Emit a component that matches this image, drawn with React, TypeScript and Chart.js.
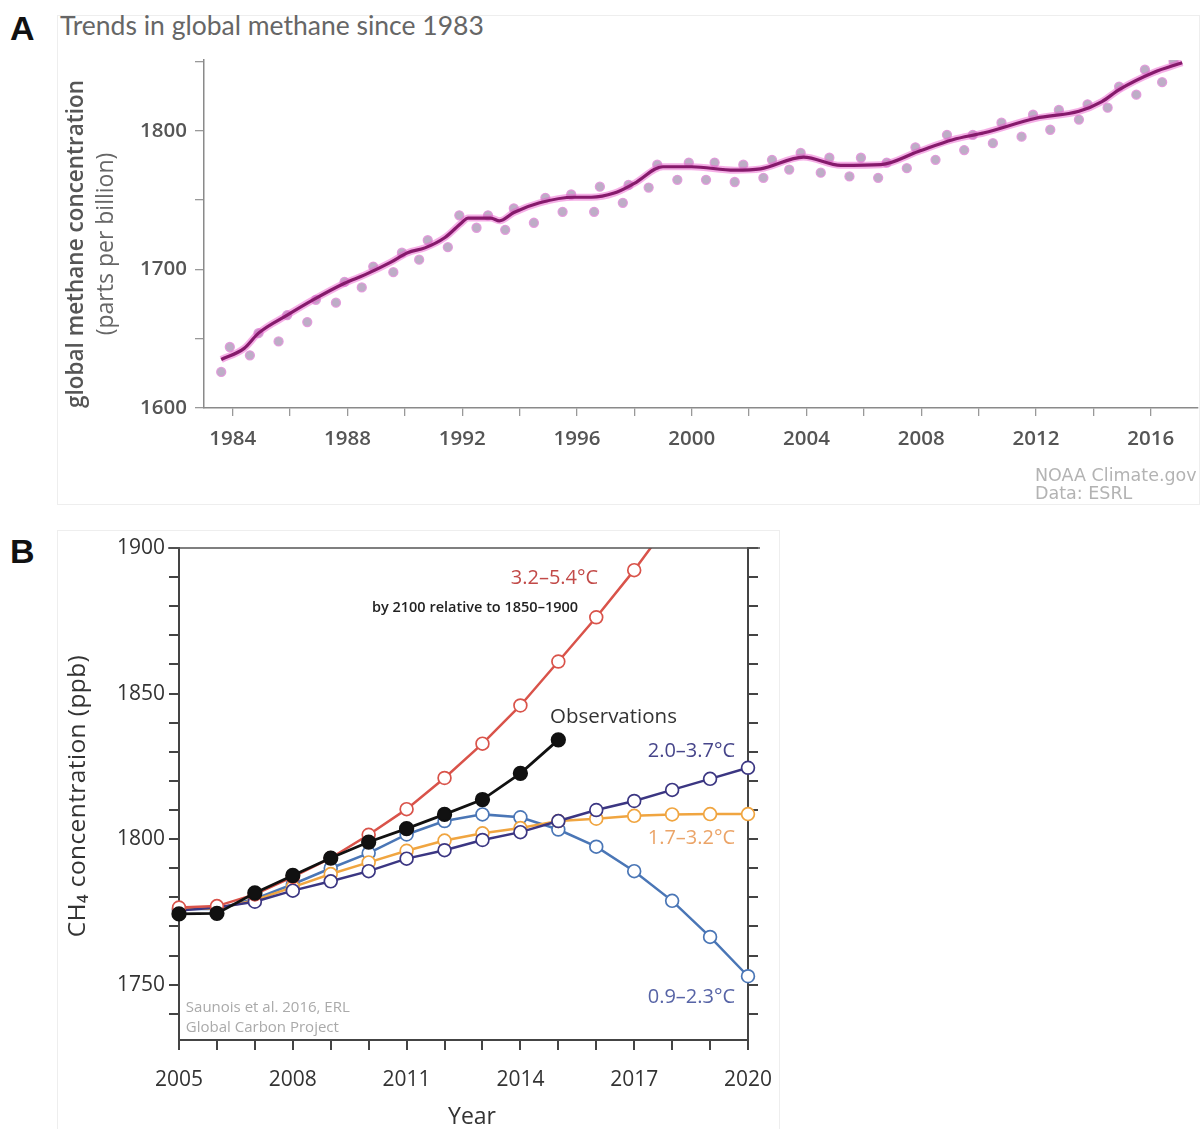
import React, { useEffect, useRef } from "react";
import { Chart, registerables } from "chart.js";

Chart.register(...registerables);

// ---------------- Panel A: Trends in global methane since 1983 ----------------
const A_TREND_YEARS = [
  1983.6, 1984.4, 1984.9, 1985.9, 1986.8, 1987.9, 1988.6, 1989.5, 1990.1, 1990.7,
  1991.4, 1992.0, 1992.2, 1993.0, 1993.3, 1993.8, 1994.7, 1995.9, 1996.5, 1997.3,
  1998.0, 1999.0, 2000.0, 2001.5, 2002.4, 2003.9, 2005.2, 2006.6, 2007.9, 2009.1,
  2010.2, 2012.0, 2013.5, 2014.3, 2014.9, 2016.1, 2017.1,
];
const A_TREND_PPB = [
  1635, 1643, 1654, 1667, 1678, 1690, 1696, 1705, 1712, 1715.5,
  1723, 1734, 1737, 1737, 1735, 1741, 1748, 1752, 1752, 1755,
  1762, 1774, 1774, 1771.5, 1772.5, 1781, 1775, 1775.5, 1785, 1793.5,
  1798.5, 1809, 1814, 1821, 1829.6, 1842, 1849,
];
const A_OBS_YEARS = [
  1983.6, 1983.9, 1984.6, 1984.9, 1985.6, 1985.9, 1986.6, 1986.9, 1987.6, 1987.9,
  1988.5, 1988.9, 1989.6, 1989.9, 1990.5, 1990.8, 1991.5, 1991.9, 1992.5, 1992.9,
  1993.5, 1993.8, 1994.5, 1994.9, 1995.5, 1995.8, 1996.6, 1996.8, 1997.6, 1997.8,
  1998.5, 1998.8, 1999.5, 1999.9, 2000.5, 2000.8, 2001.5, 2001.8, 2002.5, 2002.8,
  2003.4, 2003.8, 2004.5, 2004.8, 2005.5, 2005.9, 2006.5, 2006.8, 2007.5, 2007.8,
  2008.5, 2008.9, 2009.5, 2009.8, 2010.5, 2010.8, 2011.5, 2011.9, 2012.5, 2012.8,
  2013.5, 2013.8, 2014.5, 2014.9, 2015.5, 2015.8, 2016.4, 2016.8,
];
const A_OBS_PPB = [
  1626, 1644, 1638, 1654, 1648, 1667, 1662, 1678, 1676, 1691,
  1687, 1702, 1698, 1712, 1707, 1721, 1716, 1739, 1730, 1739,
  1728.5, 1744, 1733.6, 1751.6, 1741.5, 1754, 1741.5, 1759.6, 1748, 1761,
  1759, 1775.5, 1764.6, 1777, 1764.6, 1777, 1763, 1775.5, 1766, 1779,
  1772, 1784, 1769.7, 1780.5, 1767, 1780.5, 1766, 1777, 1773, 1788,
  1779, 1797, 1786, 1797, 1791, 1805.8, 1795.7, 1811.5, 1800.7, 1815,
  1808, 1819, 1816.6, 1831.8, 1826, 1844, 1835, 1850,
];
const A_Y_TICKS = [1600, 1650, 1700, 1750, 1800, 1850];
const A_Y_LABELS = [1600, 1700, 1800];
const A_X_TICKS = [1984, 1986, 1988, 1990, 1992, 1994, 1996, 1998, 2000, 2002, 2004, 2006, 2008, 2010, 2012, 2014, 2016];
const A_X_LABELS = [1984, 1988, 1992, 1996, 2000, 2004, 2008, 2012, 2016];

// ---------------- Panel B: CH4 concentration scenarios ----------------
const B_YEARS = [2005, 2006, 2007, 2008, 2009, 2010, 2011, 2012, 2013, 2014, 2015, 2016, 2017, 2018, 2019, 2020];
const B_OBSERVATIONS = [1774.3, 1774.5, 1781.5, 1787.5, 1793.5, 1799, 1803.6, 1808.5, 1813.6, 1822.6, 1834.1];
const B_SCEN_32_54 = [1776.5, 1777, 1781, 1787, 1793.5, 1801.5, 1810.3, 1821, 1832.8, 1845.9, 1861, 1876.2, 1892.4, 1910, 1929, 1949];
const B_SCEN_20_37 = [1775.5, 1776.5, 1778.5, 1782.3, 1785.5, 1789, 1793.3, 1796.2, 1799.7, 1802.4, 1806.2, 1810, 1813.1, 1816.9, 1820.7, 1824.5];
const B_SCEN_17_32 = [1776, 1776.2, 1779, 1783.5, 1788, 1792, 1796, 1799.5, 1802, 1803.8, 1806.2, 1807, 1808, 1808.5, 1808.6, 1808.6];
const B_SCEN_09_23 = [1776, 1776, 1779.5, 1784.5, 1790, 1795.2, 1801.6, 1806.2, 1808.5, 1807.5, 1803.3, 1797.4, 1789, 1778.8, 1766.4, 1752.9];
const B_Y_TICKS = [1740, 1750, 1760, 1770, 1780, 1790, 1800, 1810, 1820, 1830, 1840, 1850, 1860, 1870, 1880, 1890, 1900];
const B_Y_LABELS = [1750, 1800, 1850, 1900];
const B_X_LABELS = [2005, 2008, 2011, 2014, 2017, 2020];

const SANS = '"Open Sans", "Noto Sans", sans-serif';

type Ann = {
  text: string;
  x: number;
  y: number;
  font: string;
  color: string;
  align?: CanvasTextAlign;
  rotate?: boolean;
  data?: boolean;
  spacing?: number;
};

function annotPlugin(items: Ann[], extra?: (chart: any, ctx: CanvasRenderingContext2D) => void) {
  return {
    id: "annot",
    afterDraw(chart: any) {
      const ctx: CanvasRenderingContext2D = chart.ctx;
      ctx.save();
      if (extra) extra(chart, ctx);
      for (const it of items) {
        let px = it.x;
        let py = it.y;
        if (it.data) {
          px = chart.scales.x.getPixelForValue(it.x);
          py = chart.scales.y.getPixelForValue(it.y);
        }
        ctx.save();
        ctx.font = it.font;
        ctx.fillStyle = it.color;
        ctx.textAlign = it.align || "left";
        ctx.textBaseline = "middle";
        if (it.spacing) (ctx as any).letterSpacing = `${it.spacing}px`;
        ctx.translate(px, py);
        if (it.rotate) ctx.rotate(-Math.PI / 2);
        ctx.fillText(it.text, 0, 0);
        ctx.restore();
      }
      ctx.restore();
    },
  };
}

const pts = (xs: number[], ys: number[]) => ys.map((y, i) => ({ x: xs[i], y }));

export default function App() {
  const refA = useRef<HTMLCanvasElement>(null);
  const refB = useRef<HTMLCanvasElement>(null);

  useEffect(() => {
    const trend = pts(A_TREND_YEARS, A_TREND_PPB);
    const chartA = new Chart(refA.current as HTMLCanvasElement, {
      type: "line",
      data: {
        datasets: [
          {
            label: "trend",
            data: trend,
            borderColor: "#861a6c",
            borderWidth: 3.2,
            pointRadius: 0,
            cubicInterpolationMode: "monotone",
            fill: false,
          },
          {
            label: "glow",
            data: trend,
            borderColor: "rgba(235,95,205,0.5)",
            borderWidth: 7,
            pointRadius: 0,
            cubicInterpolationMode: "monotone",
            fill: false,
          },
          {
            label: "monthly",
            data: pts(A_OBS_YEARS, A_OBS_PPB),
            showLine: false,
            pointRadius: 4.5,
            pointBackgroundColor: "rgba(182,164,192,0.9)",
            pointBorderColor: "rgba(226,150,218,0.9)",
            pointBorderWidth: 1.3,
          },
        ],
      } as any,
      options: {
        animation: false,
        responsive: false,
        maintainAspectRatio: false,
        events: [],
        layout: { padding: { left: 0, right: 2, top: 15, bottom: 0 }, autoPadding: false },
        plugins: { legend: { display: false }, tooltip: { enabled: false } },
        scales: {
          x: {
            type: "linear",
            min: 1983,
            max: 2017.65,
            afterBuildTicks: (s: any) => {
              s.ticks = A_X_TICKS.map((value) => ({ value }));
            },
            afterFit: (s: any) => {
              s.height = 97;
              s.paddingLeft = 0;
              s.paddingRight = 0;
            },
            ticks: {
              autoSkip: false,
              maxRotation: 0,
              padding: 11,
              color: "#555",
              font: { family: SANS, size: 20.5, weight: "600" },
              callback: (v: any) => (A_X_LABELS.includes(Number(v)) ? String(v) : ""),
            },
            grid: { display: true, drawOnChartArea: false, drawTicks: true, tickLength: 8, color: "#999", lineWidth: 1.3 },
            border: { display: true, color: "#8a8a8a", width: 1.5 },
          },
          y: {
            type: "linear",
            min: 1600,
            max: 1851,
            afterBuildTicks: (s: any) => {
              s.ticks = A_Y_TICKS.map((value) => ({ value }));
            },
            afterFit: (s: any) => {
              s.width = 147;
              s.paddingTop = 0;
              s.paddingBottom = 0;
            },
            ticks: {
              autoSkip: false,
              padding: 8,
              color: "#555",
              font: { family: SANS, size: 20.5, weight: "600" },
              callback: (v: any) => (A_Y_LABELS.includes(Number(v)) ? String(v) : ""),
            },
            grid: { display: true, drawOnChartArea: false, drawTicks: true, tickLength: 9, color: "#999", lineWidth: 1.3 },
            border: { display: true, color: "#8a8a8a", width: 1.5 },
          },
        },
      } as any,
      plugins: [
        annotPlugin([
          { text: "global methane concentration", x: 20, y: 199, rotate: true, align: "center", font: `600 22.5px ${SANS}`, color: "#555" },
          { text: "(parts per billion)", x: 49, y: 199, rotate: true, align: "center", font: `23px ${SANS}`, color: "#666" },
        ]),
      ] as any,
    });

    const line = (label: string, data: number[], color: string, filled: boolean) => ({
      label,
      data: pts(B_YEARS, data),
      borderColor: color,
      borderWidth: filled ? 2.8 : 2.5,
      pointRadius: filled ? 6.8 : 6.4,
      pointBackgroundColor: filled ? color : "#ffffff",
      pointBorderColor: color,
      pointBorderWidth: 1.7,
      tension: 0,
      fill: false,
      clip: { left: 12, right: 12, top: 0, bottom: 12 },
    });

    const chartB = new Chart(refB.current as HTMLCanvasElement, {
      type: "line",
      data: {
        datasets: [
          line("Observations", B_OBSERVATIONS, "#111111", true),
          line("3.2–5.4°C", B_SCEN_32_54, "#d9534a", false),
          line("2.0–3.7°C", B_SCEN_20_37, "#3b3682", false),
          line("1.7–3.2°C", B_SCEN_17_32, "#f0a540", false),
          line("0.9–2.3°C", B_SCEN_09_23, "#4a76b6", false),
        ],
      } as any,
      options: {
        animation: false,
        responsive: false,
        maintainAspectRatio: false,
        events: [],
        layout: { padding: { left: 0, right: 0, top: 18, bottom: 0 }, autoPadding: false },
        plugins: { legend: { display: false }, tooltip: { enabled: false } },
        scales: {
          x: {
            type: "linear",
            min: 2005,
            max: 2020,
            afterBuildTicks: (s: any) => {
              s.ticks = B_YEARS.map((value) => ({ value }));
            },
            afterFit: (s: any) => {
              s.height = 89;
              s.paddingLeft = 0;
              s.paddingRight = 0;
            },
            ticks: {
              autoSkip: false,
              maxRotation: 0,
              padding: 17,
              color: "#333",
              font: { family: SANS, size: 21 },
              callback: (v: any) => (B_X_LABELS.includes(Number(v)) ? String(v) : ""),
            },
            grid: { display: true, drawOnChartArea: false, drawTicks: true, tickLength: 10, color: "#444", lineWidth: 2 },
            border: { display: true, color: "#444", width: 2 },
          },
          y: {
            type: "linear",
            position: "left",
            min: 1731,
            max: 1900,
            afterBuildTicks: (s: any) => {
              s.ticks = B_Y_TICKS.map((value) => ({ value }));
            },
            afterFit: (s: any) => {
              s.width = 122;
              s.paddingTop = 0;
              s.paddingBottom = 0;
            },
            ticks: {
              autoSkip: false,
              padding: 4,
              color: "#333",
              font: { family: SANS, size: 21 },
              callback: (v: any) => (B_Y_LABELS.includes(Number(v)) ? String(v) : ""),
            },
            grid: { display: true, drawOnChartArea: false, drawTicks: true, tickLength: 10, color: "#444", lineWidth: 2 },
            border: { display: true, color: "#444", width: 2 },
          },
          y2: {
            type: "linear",
            position: "right",
            min: 1731,
            max: 1900,
            afterBuildTicks: (s: any) => {
              s.ticks = B_Y_TICKS.map((value) => ({ value }));
            },
            afterFit: (s: any) => {
              s.width = 32;
              s.paddingTop = 0;
              s.paddingBottom = 0;
            },
            ticks: { autoSkip: false, padding: 0, font: { size: 8 }, callback: () => "" },
            grid: { display: true, drawOnChartArea: false, drawTicks: true, tickLength: 10, color: "#444", lineWidth: 2 },
            border: { display: true, color: "#444", width: 2 },
          },
        },
      } as any,
      plugins: [
        annotPlugin(
          [
            { text: "3.2–5.4°C", x: 2016.05, y: 1889.7, data: true, align: "right", font: `20px ${SANS}`, color: "#c24a48" },
            { text: "by 2100 relative to 1850–1900", x: 2015.52, y: 1879.5, data: true, align: "right", font: `600 14.5px ${SANS}`, color: "#222" },
            { text: "Observations", x: 2014.78, y: 1841.8, data: true, align: "left", font: `20.5px ${SANS}`, color: "#333" },
            { text: "2.0–3.7°C", x: 2019.66, y: 1830.1, data: true, align: "right", font: `20px ${SANS}`, color: "#46458a" },
            { text: "1.7–3.2°C", x: 2019.66, y: 1800.3, data: true, align: "right", font: `20px ${SANS}`, color: "#eba468" },
            { text: "0.9–2.3°C", x: 2019.66, y: 1745.5, data: true, align: "right", font: `20px ${SANS}`, color: "#5764a6" },
            { text: "Saunois et al. 2016, ERL", x: 2005.18, y: 1742.1, data: true, align: "left", font: `15px ${SANS}`, color: "#aaaaaa" },
            { text: "Global Carbon Project", x: 2005.18, y: 1735.3, data: true, align: "left", font: `15px ${SANS}`, color: "#aaaaaa" },
            { text: "CH₄ concentration (ppb)", x: 21, y: 266, rotate: true, align: "center", font: `24.5px ${SANS}`, color: "#333", spacing: 0.4 },
            { text: "Year", x: 415, y: 587, align: "center", font: `23px ${SANS}`, color: "#333" },
          ],
          (chart, ctx) => {
            const a = chart.chartArea;
            ctx.strokeStyle = "#555";
            ctx.lineWidth = 1.6;
            ctx.beginPath();
            ctx.moveTo(a.left - 11, a.top);
            ctx.lineTo(a.right + 12, a.top);
            ctx.stroke();
          }
        ),
      ] as any,
    });

    return () => {
      chartA.destroy();
      chartB.destroy();
    };
  }, []);

  const abs = (l: number, t: number, extra: React.CSSProperties = {}): React.CSSProperties => ({
    position: "absolute",
    left: l,
    top: t,
    ...extra,
  });

  return (
    <div style={{ position: "absolute", left: 0, top: 0, width: 1204, height: 1129, overflow: "hidden", background: "#fff" }}>
      <div style={abs(57, 15, { width: 1143, height: 490, border: "1px solid #eeeeee", boxSizing: "border-box" })} />
      <div style={abs(57, 530, { width: 723, height: 600, border: "1px solid #eeeeee", boxSizing: "border-box" })} />
      <div style={abs(10, 11, { font: `bold 34px "Liberation Sans", Arial, sans-serif`, lineHeight: 1, color: "#111" })}>A</div>
      <div style={abs(60, 12, { font: `26.5px Lato, "Open Sans", sans-serif`, lineHeight: 1, color: "#666", whiteSpace: "nowrap" })}>
        Trends in global methane since 1983
      </div>
      <canvas ref={refA} width={1143} height={460} style={abs(57, 45, { width: 1143, height: 460 })} />
      <div style={abs(1035, 466, { font: `17.5px "DejaVu Sans", sans-serif`, lineHeight: "18px", color: "#b3b3b3", whiteSpace: "nowrap" })}>
        NOAA Climate.gov
        <br />
        Data: ESRL
      </div>
      <div style={abs(10, 534, { font: `bold 34px "Liberation Sans", Arial, sans-serif`, lineHeight: 1, color: "#111" })}>B</div>
      <canvas ref={refB} width={723} height={599} style={abs(57, 530, { width: 723, height: 599 })} />
    </div>
  );
}
